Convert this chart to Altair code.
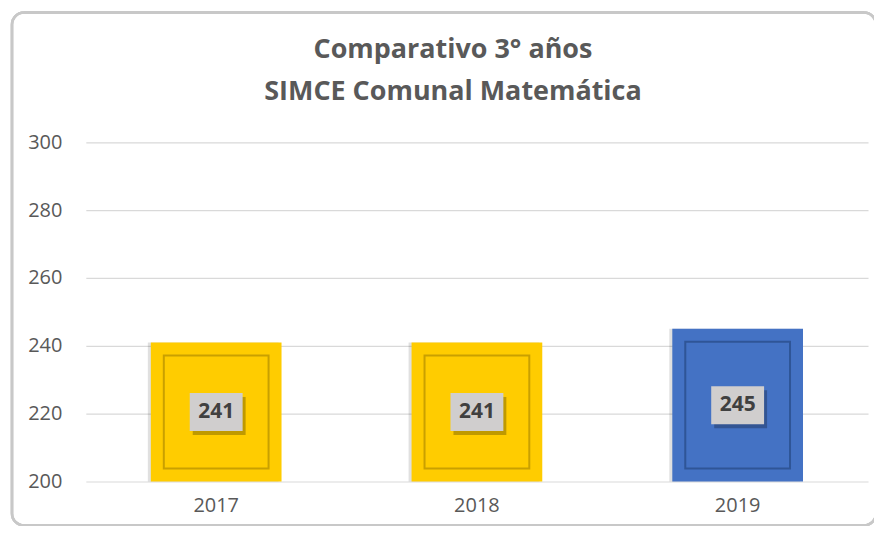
import altair as alt
import pandas as pd

years = ["2017", "2018", "2019"]
scores = [241, 241, 245]
bar_colors = ["#FFCC00", "#FFCC00", "#4472C4"]
edge_colors = ["#C9A000", "#C9A000", "#2F5597"]
y_ticks = [200, 220, 240, 260, 280, 300]
base = 200
title_lines = ["Comparativo 3° años", "SIMCE Comunal Matemática"]

df = pd.DataFrame({"year": years, "score": scores, "color": bar_colors, "edge": edge_colors})
df["base"] = base

x = alt.X("year:N", sort=years, title=None,
          scale=alt.Scale(paddingInner=0.5, paddingOuter=0.25),
          axis=alt.Axis(labelAngle=0, labelFontSize=20, labelColor="#595959", labelFont="Open Sans",
                        ticks=False, domain=False, labelPadding=14))
y = alt.Y("score:Q", title=None,
          scale=alt.Scale(domain=[200, 300], nice=False, zero=False),
          axis=alt.Axis(values=y_ticks, labelFontSize=20, labelColor="#595959", labelFont="Open Sans",
                        ticks=False, domain=False, gridColor="#D9D9D9", gridWidth=1.2, labelPadding=24))

frame = alt.Chart(df).mark_rect(
    fill=None, stroke="#C8C8C8", strokeWidth=2.5, cornerRadius=12, clip=False
).encode(x=alt.value(-74), x2=alt.value(792), y=alt.value(-130), y2=alt.value(384))

t1 = alt.Chart(pd.DataFrame({"t": [title_lines[0]]})).mark_text(
    fontSize=27, fontWeight="bold", color="#595959", font="Open Sans", baseline="middle"
).encode(text="t:N", x=alt.value(368), y=alt.value(-92))
t2 = alt.Chart(pd.DataFrame({"t": [title_lines[1]]})).mark_text(
    fontSize=27, fontWeight="bold", color="#595959", font="Open Sans", baseline="middle"
).encode(text="t:N", x=alt.value(368), y=alt.value(-50))

shadow = alt.Chart(df).mark_bar(size=131, color="#000000", opacity=0.12, xOffset=-3).encode(
    x=x, y=y, y2="base:Q")

bars = alt.Chart(df).mark_bar(size=131).encode(
    x=x, y=y, y2="base:Q",
    color=alt.Color("color:N", scale=None),
)

inner = alt.Chart(df).mark_bar(size=105, yOffset=13, y2Offset=-13, fillOpacity=0, strokeWidth=2).encode(
    x=x, y=y, y2="base:Q",
    stroke=alt.Color("edge:N", scale=None),
)

label_base = alt.Chart(df).transform_calculate(mid=f"(datum.score + {base}) / 2")
box_path = "M-1,-0.717 L1,-0.717 L1,0.717 L-1,0.717 Z"
box_shadow = label_base.mark_point(shape=box_path, size=53 * 53, filled=True, color="#000000",
                                   opacity=0.25, xOffset=3, yOffset=4, strokeWidth=0).encode(
    x=x, y=alt.Y("mid:Q"))
box = label_base.mark_point(shape=box_path, size=53 * 53, filled=True, color="#D0CECE",
                            opacity=1, strokeWidth=0).encode(x=x, y=alt.Y("mid:Q"))
label = label_base.mark_text(fontSize=21, fontWeight="bold", color="#404040", font="Open Sans").encode(
    x=x, y=alt.Y("mid:Q"), text=alt.Text("score:Q"))

chart = alt.layer(frame, t1, t2, shadow, bars, inner, box_shadow, box, label).properties(
    width=784, height=340,
    autosize=alt.AutoSizeParams(type="none"),
    padding={"left": 78, "top": 134, "right": 6, "bottom": 44},
).configure(background="white").configure_view(strokeWidth=0, stroke=None)

chart.save("out.html", embed_options={"renderer": "svg", "actions": False})
